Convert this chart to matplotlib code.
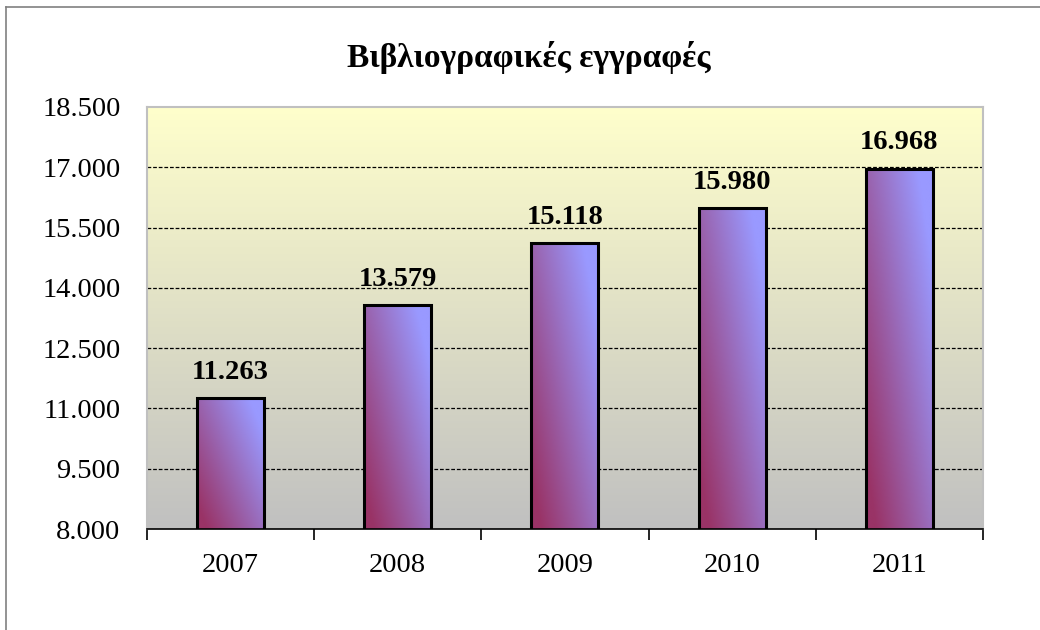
import numpy as np
import matplotlib.pyplot as plt
from matplotlib.colors import LinearSegmentedColormap
from matplotlib.lines import Line2D

years = ['2007', '2008', '2009', '2010', '2011']
records = [11263, 13579, 15118, 15980, 16968]
y_ticks = [8000, 9500, 11000, 12500, 14000, 15500, 17000, 18500]

plt.rcParams['font.family'] = ['Liberation Serif', 'DejaVu Serif']


def fmt(v):
    return f'{v:,}'.replace(',', '.')


fig = plt.figure(figsize=(10.4, 6.3), dpi=100)
ax = fig.add_axes([0.1413, 0.1603, 0.8038, 0.6699])

# chart frame (only top/left visible in the original crop)
fig.add_artist(Line2D([6 / 1040, 6 / 1040], [0, 1 - 7 / 630], color='#808080', lw=1.2))
fig.add_artist(Line2D([6 / 1040, 1], [1 - 7 / 630, 1 - 7 / 630], color='#808080', lw=1.2))

x = np.arange(len(years))
ax.set_xlim(-0.5, len(years) - 0.5)
ax.set_ylim(y_ticks[0], y_ticks[-1])

# background gradient: pale yellow top -> grey bottom
bg = LinearSegmentedColormap.from_list('bg', ['#c0c0c0', '#ffffcc'])
grad = np.linspace(0, 1, 256).reshape(-1, 1)
ax.imshow(grad, cmap=bg, aspect='auto', origin='lower',
          extent=[-0.5, len(years) - 0.5, y_ticks[0], y_ticks[-1]], zorder=0)

for t in y_ticks[1:-1]:
    ax.axhline(t, color='black', lw=0.9, ls=(0, (3, 1.5)), zorder=1)

# bars with diagonal gradient
barcm = LinearSegmentedColormap.from_list('bar', ['#993366', '#9999ff'])
bars = ax.bar(x, records, width=0.4, bottom=0, color='none',
              edgecolor='black', linewidth=2.2, zorder=3)
gx, gy = np.meshgrid(np.linspace(0, 1, 100), np.linspace(0, 1, 100))
for b in bars:
    x0, w = b.get_x(), b.get_width()
    y0 = y_ticks[0]
    h = b.get_height() - y0
    diag = np.clip((gx * 0.55 + gy * 0.45) * 1.25 - 0.1, 0, 1)
    im = ax.imshow(diag, cmap=barcm, origin='lower', aspect='auto',
                   extent=[x0, x0 + w, y0, y0 + h], zorder=2)
    im.set_clip_path(b)
    ax.text(b.get_x() + w / 2, b.get_height() + 330, fmt(int(b.get_height())),
            ha='center', va='bottom', fontsize=20.5, fontweight='bold', zorder=4)

ax.set_xlim(-0.5, len(years) - 0.5)
ax.set_ylim(y_ticks[0], y_ticks[-1])
ax.set_yticks(y_ticks)
ax.set_yticklabels([fmt(t) for t in y_ticks], fontsize=20.5)
ax.tick_params(axis='y', length=0, pad=19)
ax.set_xticks(x)
ax.set_xticklabels(years, fontsize=20.5)
ax.set_xticks(np.arange(-0.5, len(years)), minor=True)
ax.tick_params(axis='x', which='major', length=0, pad=17)
ax.tick_params(axis='x', which='minor', length=8, width=1.2, direction='out')

for side in ['top', 'right', 'left']:
    ax.spines[side].set_color('#c0c0c0')
    ax.spines[side].set_linewidth(1.5)
ax.spines['bottom'].set_color('black')
ax.spines['bottom'].set_linewidth(1.2)

fig.text(529 / 1040, 1 - 57 / 630, 'Βιβλιογραφικές εγγραφές',
         ha='center', va='center', fontsize=24, fontweight='bold')

fig.savefig('out.png', dpi=100)
